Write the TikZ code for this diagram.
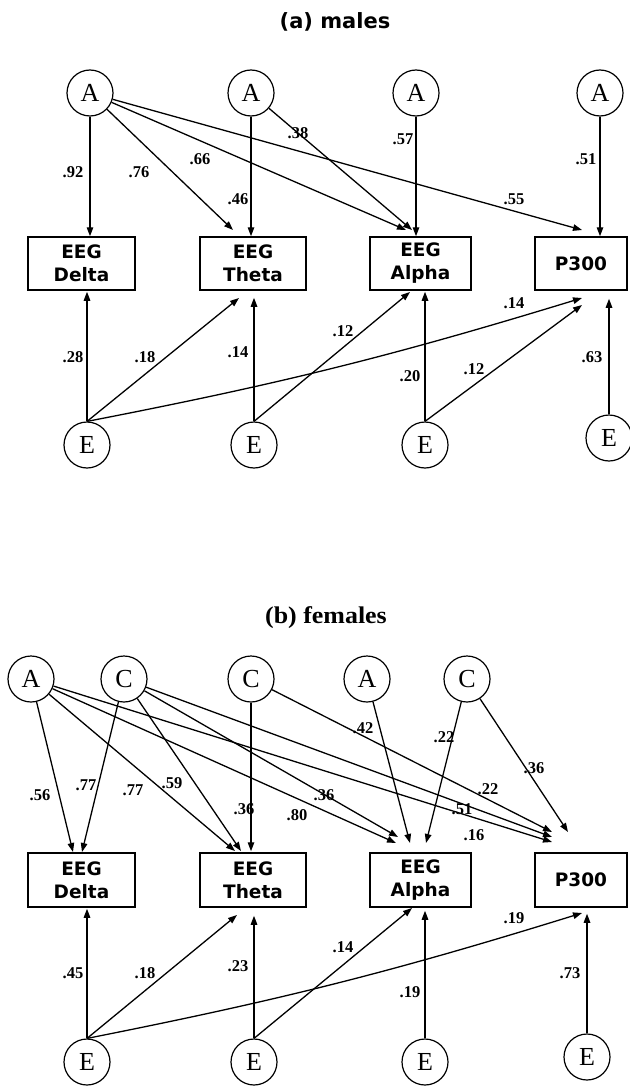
\documentclass[tikz,border=0pt]{standalone}
\usepackage{fontspec}
\setmainfont{Liberation Serif}
\newfontfamily\boxfont{DejaVu Sans}
\usetikzlibrary{arrows.meta,calc}
\tikzset{
  lat/.style={draw, circle, line width=1.2pt, minimum size=46pt, inner sep=0pt, font=\fontsize{26}{26}\selectfont},
  obs/.style={draw, rectangle, line width=1.5pt, inner sep=0pt, align=center, font=\boxfont\bfseries\fontsize{18.5}{23}\selectfont},
  arr/.style={-{Triangle[length=9pt,width=6.5pt]}, line width=1.3pt},
  lbl/.style={inner sep=0pt, font=\bfseries\fontsize{16.5}{16.5}\selectfont},
}
\begin{document}
\begin{tikzpicture}[x=1pt,y=-1pt]
\useasboundingbox (0,0) rectangle (629,1086);
% ---------------- (a) males ----------------
\node (ta) at (335,22) {\boxfont\bfseries\fontsize{21}{21}\selectfont (a) males};
\node[lat] (aA1) at (90,93) {A};
\node[lat] (aA2) at (251,93) {A};
\node[lat] (aA3) at (416,93) {A};
\node[lat] (aA4) at (600,93) {A};
\node[obs, minimum width=107pt, minimum height=53pt] (aD) at (81.5,263.5) {EEG\\Delta};
\node[obs, minimum width=106pt, minimum height=53pt] (aT) at (253,263.5) {EEG\\Theta};
\node[obs, minimum width=101pt, minimum height=53pt] (aAl) at (420.5,263.5) {EEG\\Alpha};
\node[obs, minimum width=92pt, minimum height=53pt] (aP) at (581,263.5) {P300};
\node[lat] (aE1) at (87,445) {E};
\node[lat] (aE2) at (254,445) {E};
\node[lat] (aE3) at (425,445) {E};
\node[lat] (aE4) at (609,438) {E};
% tips
\coordinate (a1T) at (233,230);
\coordinate (a1Al) at (406,230);
\coordinate (a2Al) at (412,230);
\coordinate (a1P) at (582,230);
\coordinate (e1T) at (239,298);
\coordinate (e1P) at (582,298);
\coordinate (e2Al) at (410,292);
\coordinate (e3P) at (582,305);
% A arrows
\draw[arr] (aA1) -- (aA1 |- aD.north);
\draw[arr] (aA1) -- (a1T);
\draw[arr] (aA1) -- (a1Al);
\draw[arr] (aA1) -- (a1P);
\draw[arr] (aA2) -- (aA2 |- aT.north);
\draw[arr] (aA2) -- (a2Al);
\draw[arr] (aA3) -- (aA3 |- aAl.north);
\draw[arr] (aA4) -- (aA4 |- aP.north);
% E arrows
\draw[arr] (aE1.north) -- ($(aE1.north |- aD.south)+(0,1)$);
\draw[arr] (aE1.north) -- (e1T);
\draw[arr] (aE1.north) to[bend right=3] (e1P);
\draw[arr] (aE2.north) -- ($(aE2.north |- aT.south)+(0,7)$);
\draw[arr] (aE2.north) -- (e2Al);
\draw[arr] (aE3.north) -- ($(aE3.north |- aAl.south)+(0,1)$);
\draw[arr] (aE3.north) -- (e3P);
\draw[arr] (aE4.north) -- ($(aE4.north |- aP.south)+(0,8)$);
% labels
\node[lbl] (l1) at (73,172) {.92};
\node[lbl] (l2) at (139,172) {.76};
\node[lbl] (l3) at (200,159) {.66};
\node[lbl] (l4) at (238,199) {.46};
\node[lbl] (l5) at (298,133) {.38};
\node[lbl] (l6) at (403,139) {.57};
\node[lbl] (l7) at (586,159) {.51};
\node[lbl] (l8) at (514,199) {.55};
\node[lbl] (l9) at (73,357) {.28};
\node[lbl] (l10) at (145,357) {.18};
\node[lbl] (l11) at (238,352) {.14};
\node[lbl] (l12) at (343,331) {.12};
\node[lbl] (l13) at (514,303) {.14};
\node[lbl] (l14) at (410,376) {.20};
\node[lbl] (l15) at (474,369) {.12};
\node[lbl] (l16) at (592,357) {.63};
% ---------------- (b) females ----------------
\node (tb) at (326,618) {\bfseries\fontsize{24}{24}\selectfont\scalebox{1.08}[1]{(b) females}};
\node[lat] (bA1) at (31,679) {A};
\node[lat] (bC1) at (124,679) {C};
\node[lat] (bC2) at (251,679) {C};
\node[lat] (bA2) at (367,679) {A};
\node[lat] (bC3) at (467,679) {C};
\node[obs, minimum width=107pt, minimum height=54pt] (bD) at (81.5,880) {EEG\\Delta};
\node[obs, minimum width=106pt, minimum height=54pt] (bT) at (253,880) {EEG\\Theta};
\node[obs, minimum width=101pt, minimum height=54pt] (bAl) at (420.5,880) {EEG\\Alpha};
\node[obs, minimum width=92pt, minimum height=54pt] (bP) at (581,880) {P300};
\node[lat] (bE1) at (87,1062) {E};
\node[lat] (bE2) at (254,1062) {E};
\node[lat] (bE3) at (425,1062) {E};
\node[lat] (bE4) at (587,1057) {E};
% tips
\coordinate (bA1D) at (73,852);
\coordinate (bC1D) at (82,852);
\coordinate (bA1T) at (235,851);
\coordinate (bC1T) at (241,851);
\coordinate (bA1Al) at (396,843);
\coordinate (bC1Al) at (398,837);
\coordinate (bA2Al) at (410,843);
\coordinate (bC3Al) at (426,843);
\coordinate (bA1P) at (552,842);
\coordinate (bC1P) at (552,837);
\coordinate (bC2P) at (552,832);
\coordinate (bC3P) at (568,832);
\coordinate (bE1T) at (237,915);
\coordinate (bE1P) at (582,913);
\coordinate (bE2Al) at (412,908);
% top arrows
\draw[arr] (bA1) -- (bA1D);
\draw[arr] (bC1) -- (bC1D);
\draw[arr] (bA1) -- (bA1T);
\draw[arr] (bC1) -- (bC1T);
\draw[arr] (bC2) -- ($(bC2 |- bT.north)+(0,-1)$);
\draw[arr] (bA1) -- (bA1Al);
\draw[arr] (bC1) -- (bC1Al);
\draw[arr] (bA2) -- (bA2Al);
\draw[arr] (bC3) -- (bC3Al);
\draw[arr] (bA1) -- (bA1P);
\draw[arr] (bC1) -- (bC1P);
\draw[arr] (bC2) -- (bC2P);
\draw[arr] (bC3) -- (bC3P);
% bottom arrows
\draw[arr] (bE1.north) -- ($(bE1.north |- bD.south)+(0,1)$);
\draw[arr] (bE1.north) -- (bE1T);
\draw[arr] (bE1.north) to[bend right=3] (bE1P);
\draw[arr] (bE2.north) -- ($(bE2.north |- bT.south)+(0,8)$);
\draw[arr] (bE2.north) -- (bE2Al);
\draw[arr] (bE3.north) -- ($(bE3.north |- bAl.south)+(0,3)$);
\draw[arr] (bE4.north) -- ($(bE4.north |- bP.south)+(0,6)$);
% labels
\node[lbl] (m1) at (40,795) {.56};
\node[lbl] (m2) at (86,785) {.77};
\node[lbl] (m3) at (133,790) {.77};
\node[lbl] (m4) at (172,783) {.59};
\node[lbl] (m5) at (244,809) {.36};
\node[lbl] (m6) at (297,815) {.80};
\node[lbl] (m7) at (324,795) {.36};
\node[lbl] (m8) at (363,728) {.42};
\node[lbl] (m9) at (444,737) {.22};
\node[lbl] (m10) at (534,768) {.36};
\node[lbl] (m11) at (488,789) {.22};
\node[lbl] (m12) at (462,809) {.51};
\node[lbl] (m13) at (474,835) {.16};
\node[lbl] (m14) at (73,973) {.45};
\node[lbl] (m15) at (145,973) {.18};
\node[lbl] (m16) at (238,966) {.23};
\node[lbl] (m17) at (343,947) {.14};
\node[lbl] (m18) at (514,918) {.19};
\node[lbl] (m19) at (410,992) {.19};
\node[lbl] (m20) at (570,973) {.73};
\end{tikzpicture}
\end{document}
